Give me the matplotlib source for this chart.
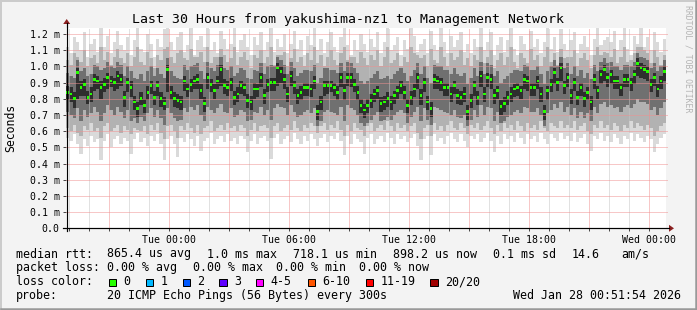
import matplotlib
matplotlib.use("Agg")
import matplotlib.pyplot as plt
import matplotlib.dates as mdates
from matplotlib.lines import Line2D
from matplotlib.patches import Rectangle, Polygon
import numpy as np
import pandas as pd

# -----------------------------
# DATA (values in 1/100 ms, one sample per 10 minutes)
# -----------------------------
END_TIME = pd.Timestamp("2026-01-28 00:51:54")

median = [
    84, 83, 80, 96, 87, 89, 81, 83, 92, 91, 87, 89, 93, 91, 90, 94, 92, 81, 90, 87,
    78, 74, 80, 76, 84, 88, 81, 88, 80, 77, 98, 84, 80, 79, 78, 91, 86, 89, 91, 92,
    85, 77, 93, 89, 85, 91, 98, 88, 87, 90, 81, 83, 88, 87, 79, 78, 86, 86, 93, 82,
    89, 90, 90, 99, 97, 92, 83, 94, 88, 82, 84, 87, 87, 86, 91, 72, 78, 88, 88, 88,
    87, 84, 93, 85, 93, 93, 89, 84, 76, 73, 76, 79, 83, 85, 77, 78, 80, 78, 82, 85,
    88, 84, 76, 81, 86, 93, 82, 90, 78, 74, 92, 91, 90, 87, 87, 83, 88, 82, 81, 83,
    72, 79, 88, 81, 94, 83, 93, 92, 82, 85, 75, 77, 81, 83, 86, 87, 85, 92, 91, 87,
    87, 91, 83, 72, 85, 89, 96, 90, 99, 88, 93, 82, 90, 81, 87, 80, 84, 78, 92, 85,
    95, 98, 93, 95, 91, 91, 87, 92, 92, 90, 95, 102, 99, 98, 97, 89, 93, 86, 91, 97,
]

# smoke: four nested ping ranges (outermost first)
low1 = [
    56, 54, 58, 52, 46, 55, 51, 57, 53, 55, 42, 54, 58, 50, 55, 57, 52, 56, 54, 46,
    55, 59, 53, 56, 51, 57, 54, 58, 52, 42, 55, 57, 52, 44, 56, 53, 58, 55, 51, 57,
    48, 54, 56, 59, 52, 55, 57, 53, 58, 54, 56, 52, 57, 55, 47, 54, 58, 52, 56, 57,
    54, 43, 56, 58, 52, 55, 57, 53, 59, 55, 52, 57, 54, 58, 55, 51, 56, 58, 53, 57,
    55, 59, 54, 45, 57, 52, 58, 55, 53, 46, 56, 58, 52, 55, 57, 53, 59, 56, 52, 58,
    55, 57, 53, 56, 58, 51, 42, 55, 57, 45, 58, 54, 56, 52, 57, 59, 55, 53, 58, 54,
    50, 57, 55, 58, 53, 56, 59, 54, 47, 57, 52, 58, 55, 57, 53, 59, 56, 52, 58, 55,
    57, 53, 59, 55, 52, 58, 56, 54, 59, 55, 57, 54, 59, 53, 56, 58, 52, 48, 57, 55,
    59, 54, 57, 53, 58, 56, 52, 57, 55, 59, 54, 58, 56, 53, 57, 55, 47, 52, 56, 58,
]
high1 = [
    112, 108, 118, 115, 110, 121, 106, 114, 117, 109, 124, 112, 119, 108, 115, 122, 113, 110, 118, 107,
    116, 124, 111, 109, 120, 114, 106, 117, 112, 123, 124, 115, 110, 118, 121, 109, 113, 124, 107, 116,
    119, 112, 124, 110, 115, 108, 122, 117, 111, 114, 124, 109, 116, 120, 112, 107, 118, 113, 121, 110,
    115, 124, 109, 117, 112, 120, 108, 114, 122, 111, 116, 107, 119, 113, 124, 110, 117, 108, 115, 121,
    112, 109, 118, 124, 113, 107, 116, 110, 120, 114, 109, 117, 112, 121, 108, 115, 124, 110, 113, 118,
    107, 116, 111, 124, 119, 109, 114, 117, 108, 122, 113, 110, 124, 115, 108, 119, 112, 116, 121, 109,
    114, 108, 117, 112, 124, 110, 115, 121, 107, 113, 118, 109, 116, 124, 111, 107, 119, 114, 110, 122,
    112, 117, 108, 115, 124, 111, 118, 109, 123, 114, 110, 116, 121, 108, 114, 119, 112, 107, 117, 124,
    113, 116, 118, 115, 122, 110, 116, 124, 111, 107, 119, 114, 124, 112, 118, 110, 121, 115, 109, 117,
]
low2 = [
    62, 60, 64, 59, 57, 63, 61, 65, 60, 62, 56, 63, 65, 60, 62, 64, 59, 63, 61, 58,
    62, 61, 60, 63, 58, 64, 61, 65, 59, 55, 63, 64, 60, 56, 63, 61, 65, 62, 59, 64,
    58, 62, 63, 66, 60, 62, 64, 61, 65, 62, 63, 60, 64, 62, 57, 61, 65, 60, 63, 64,
    62, 56, 63, 65, 60, 62, 64, 61, 66, 62, 60, 64, 62, 65, 63, 59, 63, 65, 61, 64,
    62, 66, 61, 57, 64, 60, 65, 62, 61, 57, 63, 65, 60, 62, 64, 61, 66, 63, 60, 65,
    62, 64, 60, 63, 65, 59, 55, 62, 64, 57, 65, 61, 63, 60, 64, 66, 62, 61, 65, 62,
    58, 64, 62, 65, 61, 63, 66, 62, 58, 64, 60, 65, 62, 64, 61, 66, 63, 60, 65, 62,
    64, 61, 66, 62, 60, 65, 63, 62, 66, 62, 64, 62, 66, 61, 63, 65, 60, 58, 64, 62,
    66, 62, 64, 61, 65, 63, 60, 64, 62, 66, 62, 65, 63, 61, 64, 62, 57, 60, 63, 65,
]
high2 = [
    104, 101, 108, 106, 103, 110, 100, 105, 107, 102, 112, 104, 109, 101, 106, 111, 105, 102, 108, 100,
    106, 112, 103, 101, 109, 105, 99, 107, 104, 111, 112, 106, 102, 108, 110, 105, 104, 111, 106, 106,
    109, 103, 112, 102, 106, 106, 111, 107, 103, 105, 112, 101, 106, 109, 104, 99, 107, 105, 110, 102,
    106, 112, 101, 107, 107, 109, 100, 105, 111, 103, 106, 100, 108, 104, 112, 102, 107, 100, 106, 110,
    104, 101, 108, 112, 104, 106, 106, 102, 109, 105, 101, 107, 104, 110, 100, 106, 112, 102, 104, 108,
    100, 106, 103, 112, 108, 107, 105, 107, 100, 111, 104, 102, 112, 106, 100, 108, 104, 106, 110, 101,
    105, 100, 107, 104, 112, 102, 106, 110, 99, 104, 108, 101, 106, 112, 103, 99, 108, 105, 102, 111,
    104, 107, 100, 106, 112, 103, 108, 101, 111, 105, 106, 106, 110, 100, 105, 108, 104, 99, 107, 112,
    107, 109, 108, 106, 111, 102, 106, 112, 103, 104, 108, 112, 112, 110, 108, 102, 110, 106, 101, 107,
]
low3 = [
    72, 70, 68, 74, 66, 73, 69, 71, 75, 72, 66, 71, 76, 73, 70, 75, 72, 68, 73, 66,
    68, 65, 69, 66, 71, 74, 69, 73, 68, 64, 74, 71, 68, 66, 67, 74, 72, 75, 73, 76,
    70, 66, 75, 73, 71, 74, 77, 72, 71, 74, 69, 70, 73, 72, 66, 67, 72, 71, 75, 70,
    73, 67, 74, 77, 75, 74, 70, 76, 72, 69, 70, 72, 73, 71, 74, 63, 66, 72, 73, 72,
    71, 70, 75, 66, 76, 74, 73, 70, 65, 63, 65, 67, 70, 72, 66, 67, 69, 67, 70, 72,
    73, 71, 65, 69, 72, 75, 66, 74, 67, 64, 75, 74, 73, 72, 71, 70, 73, 69, 68, 70,
    63, 67, 73, 69, 76, 70, 75, 74, 66, 72, 65, 66, 69, 70, 72, 73, 71, 75, 74, 72,
    72, 74, 70, 63, 71, 73, 77, 74, 78, 72, 75, 70, 74, 68, 72, 68, 71, 66, 75, 71,
    77, 78, 75, 76, 74, 75, 72, 75, 76, 74, 77, 80, 78, 78, 77, 73, 75, 70, 74, 78,
]
high3 = [
    96, 94, 93, 104, 97, 99, 94, 95, 101, 100, 98, 99, 103, 100, 99, 103, 101, 94, 100, 97,
    93, 92, 95, 91, 97, 100, 94, 99, 95, 93, 105, 97, 94, 93, 92, 101, 98, 100, 101, 102,
    97, 92, 103, 99, 97, 101, 106, 99, 98, 100, 94, 96, 99, 98, 93, 92, 98, 97, 102, 95,
    100, 101, 100, 106, 104, 101, 95, 103, 99, 94, 96, 98, 98, 97, 101, 90, 93, 99, 99, 98,
    98, 96, 102, 97, 103, 102, 99, 96, 91, 89, 91, 93, 95, 97, 92, 93, 94, 92, 95, 97,
    99, 96, 91, 94, 98, 102, 95, 100, 93, 90, 101, 100, 100, 98, 98, 95, 99, 95, 94, 96,
    89, 93, 99, 94, 103, 95, 102, 101, 94, 97, 90, 92, 94, 96, 98, 98, 97, 101, 100, 98,
    98, 100, 95, 89, 97, 100, 104, 100, 106, 99, 102, 95, 100, 94, 98, 93, 96, 92, 101, 97,
    103, 105, 102, 103, 100, 100, 98, 101, 101, 100, 103, 108, 106, 105, 104, 99, 102, 97, 100, 104,
]
low4 = [
    79, 78, 74, 80, 82, 82, 77, 78, 85, 86, 80, 84, 86, 87, 85, 86, 88, 75, 84, 81,
    73, 69, 76, 71, 79, 83, 76, 82, 75, 73, 84, 79, 75, 74, 73, 85, 81, 84, 86, 86,
    80, 72, 86, 84, 80, 86, 88, 83, 82, 85, 76, 78, 83, 82, 74, 73, 80, 81, 87, 77,
    84, 85, 85, 88, 90, 86, 78, 88, 83, 77, 79, 82, 82, 81, 86, 67, 73, 82, 83, 84,
    82, 79, 87, 79, 88, 87, 84, 79, 71, 68, 71, 74, 78, 80, 72, 73, 75, 73, 77, 80,
    83, 79, 71, 76, 81, 86, 76, 84, 73, 69, 86, 86, 85, 82, 82, 78, 83, 77, 76, 78,
    67, 74, 82, 76, 87, 78, 87, 86, 77, 80, 70, 72, 76, 78, 81, 82, 80, 86, 85, 82,
    82, 86, 78, 67, 79, 84, 89, 85, 91, 83, 87, 77, 85, 76, 82, 75, 79, 73, 86, 80,
    89, 91, 87, 89, 86, 86, 82, 87, 87, 85, 89, 94, 93, 92, 91, 84, 88, 81, 86, 91,
]
high4 = [
    88, 87, 84, 99, 91, 92, 85, 87, 95, 94, 91, 93, 96, 94, 93, 97, 95, 85, 93, 91,
    82, 78, 84, 80, 88, 91, 85, 91, 84, 81, 101, 88, 84, 83, 82, 94, 90, 92, 94, 95,
    89, 81, 96, 92, 89, 94, 101, 92, 91, 93, 85, 87, 91, 90, 83, 82, 90, 89, 96, 86,
    92, 93, 93, 102, 100, 95, 87, 97, 91, 86, 88, 90, 90, 89, 94, 76, 82, 91, 91, 91,
    90, 88, 96, 89, 96, 96, 92, 88, 80, 77, 80, 83, 86, 88, 81, 82, 84, 82, 85, 88,
    91, 88, 80, 85, 89, 96, 86, 93, 82, 78, 95, 94, 93, 90, 90, 87, 91, 86, 85, 87,
    76, 83, 91, 85, 97, 87, 96, 95, 86, 88, 79, 81, 85, 87, 89, 90, 88, 95, 94, 90,
    90, 94, 87, 76, 88, 92, 99, 93, 102, 91, 96, 86, 93, 85, 90, 84, 87, 82, 95, 88,
    98, 101, 96, 98, 94, 94, 90, 95, 95, 93, 98, 105, 102, 101, 100, 92, 96, 89, 94, 100,
]

y_ticks = [0.0, 0.1, 0.2, 0.3, 0.4, 0.5, 0.6, 0.7, 0.8, 0.9, 1.0, 1.1, 1.2]
y_tick_labels = ["0.0", "0.1 m", "0.2 m", "0.3 m", "0.4 m", "0.5 m", "0.6 m",
                 "0.7 m", "0.8 m", "0.9 m", "1.0 m", "1.1 m", "1.2 m"]
x_tick_times = ["2026-01-27 00:00", "2026-01-27 06:00", "2026-01-27 12:00",
                "2026-01-27 18:00", "2026-01-28 00:00"]
x_tick_labels = ["Tue 00:00", "Tue 06:00", "Tue 12:00", "Tue 18:00", "Wed 00:00"]

loss_labels = ["0", "1", "2", "3", "4-5", "6-10", "11-19", "20/20"]
loss_colors = ["#26ff00", "#00b8ff", "#0059ff", "#5e00ff", "#ff00ff",
               "#ff5500", "#ff0000", "#a00000"]

# -----------------------------
# LAYOUT (pixels)
# -----------------------------
W, H = 697, 310
AX_L, AX_R, AX_T, AX_B = 66, 666, 28, 228.3
FONT = "DejaVu Sans Mono"
SMOKE = ["#dadada", "#b2b2b2", "#707070", "#2e2e2e"]


def fx(x):
    return x / W


def fy(y):
    return 1 - y / H


def pt(px):
    return px * 72 / 100


plt.rcParams["font.family"] = FONT
fig = plt.figure(figsize=(W / 100, H / 100), dpi=100, facecolor="#f3f3f3")

# 3d border of the rrd canvas
fig.add_artist(Line2D([fx(0.5), fx(W - 1)], [fy(0.5), fy(0.5)], color="#cbcbcb", lw=pt(2)))
fig.add_artist(Line2D([fx(0.5), fx(0.5)], [fy(0.5), fy(H - 1)], color="#cbcbcb", lw=pt(2)))
fig.add_artist(Line2D([fx(1), fx(W)], [fy(H - 1), fy(H - 1)], color="#999999", lw=pt(2.5)))
fig.add_artist(Line2D([fx(W - 1), fx(W - 1)], [fy(1), fy(H)], color="#999999", lw=pt(2.5)))

ax = fig.add_axes([fx(AX_L), fy(AX_B), (AX_R - AX_L) / W, (AX_B - AX_T) / H])
ax.set_facecolor("white")
for s in ax.spines.values():
    s.set_visible(False)

# -----------------------------
# SMOKE + MEDIAN
# -----------------------------
edges = pd.date_range(end=END_TIME, periods=len(median) + 1, freq="10min")
xe = mdates.date2num(edges.to_pydatetime())
step = xe[1] - xe[0]

bands = [(low1, high1), (low2, high2), (low3, high3), (low4, high4)]
for (lo, hi), col in zip(bands, SMOKE):
    ax.stairs(np.array(hi) / 100, xe, baseline=np.array(lo) / 100, fill=True,
              color=col, lw=0, antialiased=False, zorder=1)

med = np.array(median) / 100
ax.bar(xe[:-1] + 0.15 * step, 0.017, bottom=med - 0.0085, width=0.7 * step,
       align="edge", color=loss_colors[0], lw=0, antialiased=False, zorder=4)

ax.set_xlim(xe[0], xe[-1])
ax.set_ylim(0, 1.237)

# -----------------------------
# GRID (dotted, drawn on top like rrdtool)
# -----------------------------
hours = pd.date_range("2026-01-26 19:00", "2026-01-28 00:00", freq="1h")
for h in hours:
    major = h.hour % 3 == 0
    ax.axvline(mdates.date2num(h.to_pydatetime()), color="#f09090" if major else "#c4c4c4",
               lw=pt(1), ls=(0, (1, 1)), zorder=3)
for v in y_ticks[1:]:
    ax.axhline(v, color="#f09090", lw=pt(1), ls=(0, (1, 1)),
               zorder=3, xmax=1.003, clip_on=False)

# -----------------------------
# TICKS
# -----------------------------
ax.set_yticks(y_ticks)
ax.set_yticklabels(y_tick_labels)
ax.set_xticks(mdates.date2num(pd.to_datetime(x_tick_times).to_pydatetime()))
ax.set_xticklabels(x_tick_labels)
ax.set_xticks(mdates.date2num(hours.to_pydatetime()), minor=True)
ax.tick_params(axis="both", which="both", length=2, width=0.7, color="#444444",
               labelsize=7.1, pad=2.5)
ax.tick_params(axis="x", which="major", pad=3)

# axes with arrows
fig.add_artist(Line2D([fx(63), fx(669)], [fy(AX_B), fy(AX_B)], color="black", lw=pt(1.2)))
fig.add_artist(Line2D([fx(AX_L + 0.7), fx(AX_L + 0.7)], [fy(AX_B + 3), fy(23)], color="black",
                      lw=pt(1.2)))
fig.add_artist(Polygon([[fx(669), fy(AX_B - 3.5)], [fx(669), fy(AX_B + 3.5)], [fx(674), fy(AX_B)]],
                       closed=True, color="#8b2020", lw=0))
fig.add_artist(Polygon([[fx(AX_L - 2.8), fy(24)], [fx(AX_L + 4.2), fy(24)], [fx(AX_L + 0.7), fy(19)]],
                       closed=True, color="#8b2020", lw=0))

# -----------------------------
# TEXTS
# -----------------------------
fig.text(fx(348), fy(19), "Last 30 Hours from yakushima-nz1 to Management Network",
         ha="center", va="center", fontsize=9.5)
fig.text(fx(11), fy(128), "Seconds", rotation=90, ha="center", va="center", fontsize=8.3)
fig.text(fx(688), fy(59), "RRDTOOL / TOBI OETIKER", rotation=270, ha="center", va="center",
         fontsize=5.9, color="#b4b4b4")

LEG = 8.35
rows = [
    (257.5, [(16, "median rtt:"), (107.3, "865.4 us avg"), (206.7, "1.0 ms max"),
             (292.7, "718.1 us min"), (393.3, "898.2 us now"), (493.3, "0.1 ms sd"),
             (571.7, "14.6"), (621, "am/s")]),
    (271.4, [(16, "packet loss:"), (107.3, "0.00 % avg"), (193.3, "0.00 % max"),
             (276, "0.00 % min"), (359.3, "0.00 % now")]),
    (285.3, [(16, "loss color:")]),
    (299.2, [(16, "probe:"), (107.3, "20 ICMP Echo Pings (56 Bytes) every 300s"),
             (513.3, "Wed Jan 28 00:51:54 2026")]),
]
for base, items in rows:
    for x, txt in items:
        fig.text(fx(x), fy(base), txt, ha="left", va="baseline", fontsize=LEG)

box_x = [108.7, 145.7, 182.7, 219.3, 256, 307.7, 365.7, 430.3]
for bx, lab, col in zip(box_x, loss_labels, loss_colors):
    fig.add_artist(Rectangle((fx(bx), fy(285.8)), 7.3 / W, 7.3 / H, facecolor=col,
                             edgecolor="black", lw=pt(1)))
    fig.text(fx(bx + 14.6), fy(285.3), lab, ha="left", va="baseline", fontsize=LEG)

fig.savefig("out.png", dpi=100, facecolor=fig.get_facecolor())
